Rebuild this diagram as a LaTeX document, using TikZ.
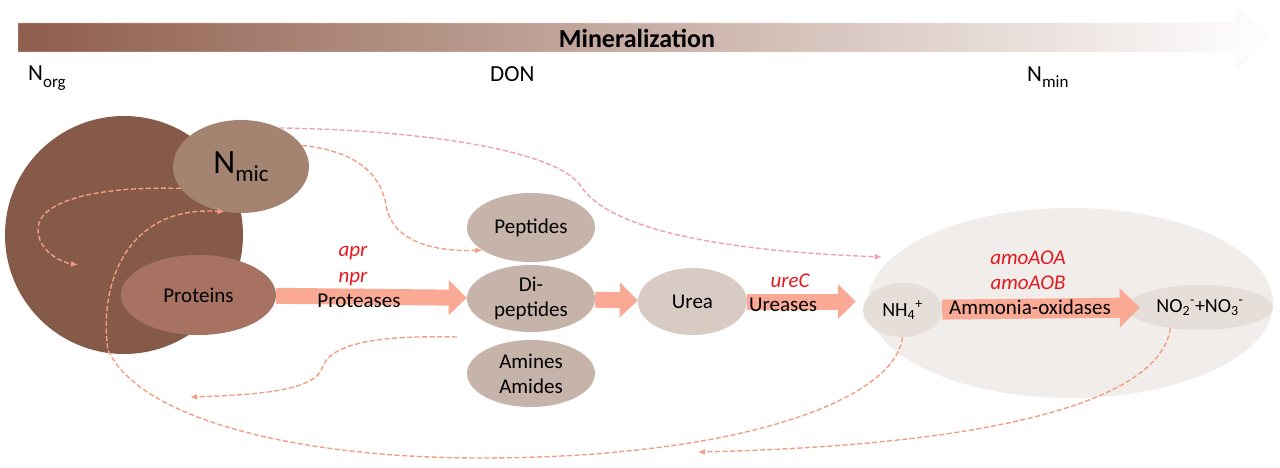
\documentclass[tikz,border=0pt]{standalone}
\usepackage{fontspec}
\setmainfont{Carlito}
\usetikzlibrary{shapes.geometric,arrows.meta}
\definecolor{barbrown}{RGB}{143,93,75}
\definecolor{soilbrown}{RGB}{134,90,73}
\definecolor{micbrown}{RGB}{164,132,113}
\definecolor{protbrown}{RGB}{167,114,98}
\definecolor{donbrown}{RGB}{198,179,169}
\definecolor{ureabrown}{RGB}{216,203,196}
\definecolor{minpool}{RGB}{240,237,235}
\definecolor{minnode}{RGB}{230,222,217}
\definecolor{flowsalmon}{RGB}{250,170,148}
\definecolor{dashsalmon}{RGB}{242,158,130}
\definecolor{dashpink}{RGB}{240,160,180}
\definecolor{genered}{RGB}{226,26,30}

\begin{document}
\begin{tikzpicture}[x=1pt,y=-1pt,
      pool/.style={ellipse, inner sep=0pt, align=center, font=\fontsize{21}{25}\selectfont},
      flow/.style={flowsalmon, line width=16pt, -{Triangle[length=18pt,width=34pt]}},
      gene/.style={genered, inner sep=0pt, font=\fontsize{21}{22}\selectfont\itshape},
      enzyme/.style={inner sep=0pt, font=\fontsize{21}{22}\selectfont},
      level/.style={anchor=base west, inner sep=0pt, font=\fontsize{23}{24}\selectfont},
      pfeil/.style={dashsalmon, line width=1.4pt, dash pattern=on 5pt off 2.5pt, -{Latex[length=7pt,width=6pt]}}]
\useasboundingbox (0,0) rectangle (1280,468);

\shade[left color=barbrown, right color=white, draw=gray!10] (18,23) -- (1236,23) -- (1236,7) -- (1267,38) -- (1236,69) -- (1236,52) -- (18,52) -- cycle;
\node[font=\fontsize{26}{28}\selectfont\bfseries] (mineral) at (637,38.5) {Mineralization};
\node[level] (norg) at (28,81) {N\raisebox{-7pt}{\fontsize{17}{18}\selectfont org}};
\node[level] (don) at (490,82) {DON};
\node[level] (nmin) at (1027,82) {N\raisebox{-6pt}{\fontsize{17}{18}\selectfont min}};

\node[circle, fill=soilbrown, inner sep=0pt, minimum size=238pt] (soil) at (124,235) {};
\node[pool, fill=micbrown, minimum width=136pt, minimum height=93pt, font=\fontsize{34}{36}\selectfont] (nmic) at (241,166.5) {N\raisebox{-8pt}{\fontsize{23}{24}\selectfont mic}};
\node[pool, fill=protbrown, minimum width=155pt, minimum height=80pt] (prot) at (198.5,295) {Proteins};
\node[pool, fill=donbrown, minimum width=128pt, minimum height=69pt] (pep) at (531,227.5) {Peptides};
\node[pool, fill=donbrown, minimum width=128pt, minimum height=67pt] (dipep) at (531,298.5) {Di-\\peptides};
\node[pool, fill=donbrown, minimum width=128pt, minimum height=67pt] (amin) at (531,373.5) {Amines\\Amides};
\node[pool, fill=ureabrown, minimum width=109pt, minimum height=67pt] (urea) at (692.5,301.5) {Urea};
\node[ellipse, fill=minpool, inner sep=0pt, minimum width=405pt, minimum height=190pt] (minpool) at (1070.5,303) {};
\node[pool, fill=minnode, minimum width=79pt, minimum height=54pt, font=\fontsize{20}{21}\selectfont] (nh4) at (902.5,310) {NH\textsubscript{4}\textsuperscript{+}};
\node[pool, fill=minnode, minimum width=146pt, minimum height=45pt, font=\fontsize{20}{21}\selectfont] (nox) at (1200,307.5) {NO\textsubscript{2}\textsuperscript{-}+NO\textsubscript{3}\textsuperscript{-}};

\draw[flow] (prot) -- (dipep);
\draw[flow] (dipep) -- (urea);
\draw[flow, shorten >=7pt] (urea.east) -- (urea.east -| nh4.west);
\draw[flow, line width=20pt, -{Triangle[length=20pt,width=38pt]}] (nh4) -- ([xshift=13pt]nox.west);

\node[gene] (apr) at (353,253) {apr};
\node[gene] (npr) at (353,279) {npr};
\node[enzyme] (protease) at (359,301) {Proteases};
\node[gene] (urec) at (790,281) {ureC};
\node[enzyme] (urease) at (783,305) {Ureases};
\node[gene] (aoa) at (1028,258) {amoAOA};
\node[gene] (aob) at (1028,283) {amoAOB};
\node[enzyme] (amo) at (1030,307) {Ammonia-oxidases};

\coordinate (recyc) at (78,265);
\coordinate (dnout) at (457,337);
\coordinate (dnin) at (190,397);
\coordinate (minin) at (882,257);
\coordinate (noxin) at (698,452);

\draw[pfeil] (nmic.200) .. controls (100,186) and (40,200) .. (38,228) .. controls (37,250) and (60,262) .. (recyc);
\draw[pfeil] (nmic.19) .. controls (350,150) and (380,170) .. (386,205) .. controls (392,240) and (430,252) .. (pep.205);
\draw[pfeil] (dnout) .. controls (370,335) and (330,345) .. (322,368) .. controls (315,390) and (260,395) .. (dnin);
\draw[pfeil, dashpink] (nmic.45) .. controls (420,130) and (555,150) .. (580,185) .. controls (605,225) and (700,250) .. (minin);
\draw[pfeil] (nh4.south) .. controls (895,400) and (740,458) .. (480,458) .. controls (300,458) and (140,420) .. (108,350) .. controls (98,280) and (130,205) .. (nmic.250);
\draw[pfeil] (nox.215) .. controls (1160,400) and (1000,445) .. (noxin);

\end{tikzpicture}
\end{document}
